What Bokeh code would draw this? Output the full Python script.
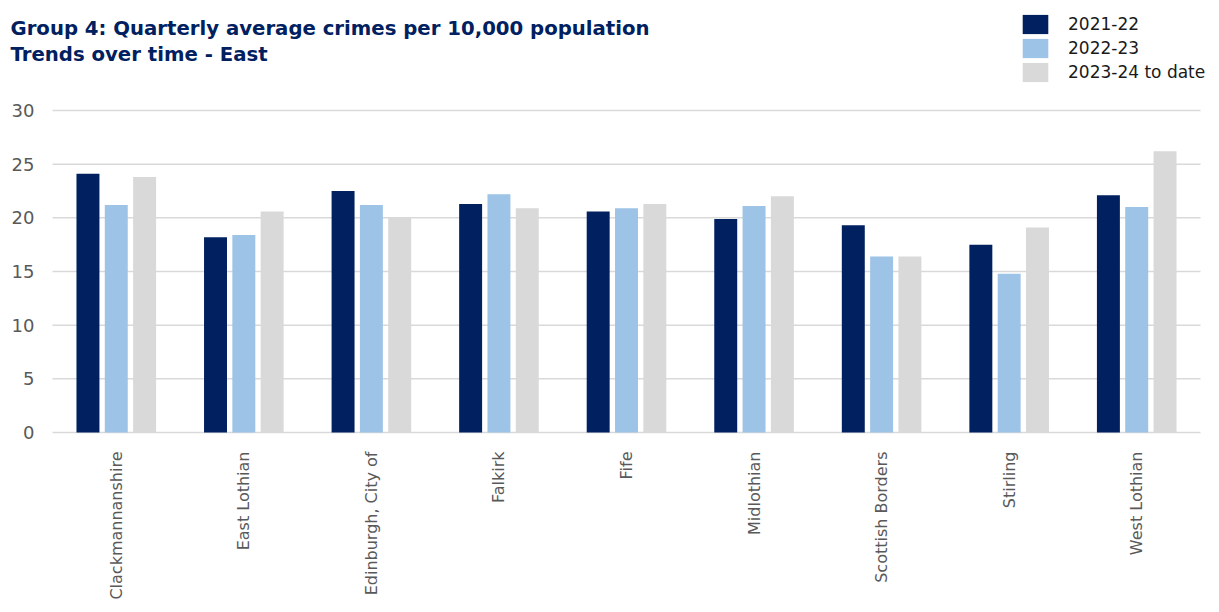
import math
from bokeh.plotting import figure
from bokeh.models import (ColumnDataSource, Legend, LegendItem, Label, Range1d, FixedTicker)
from bokeh.transform import dodge
from bokeh.core.properties import value
from bokeh.embed import file_html
from bokeh.resources import INLINE

categories = ["Clackmannanshire", "East Lothian", "Edinburgh, City of", "Falkirk", "Fife",
              "Midlothian", "Scottish Borders", "Stirling", "West Lothian"]
series_names = ["2021-22", "2022-23", "2023-24 to date"]
v_2021_22 = [24.1, 18.2, 22.5, 21.3, 20.6, 19.9, 19.3, 17.5, 22.1]
v_2022_23 = [21.2, 18.4, 21.2, 22.2, 20.9, 21.1, 16.4, 14.8, 21.0]
v_2023_24 = [23.8, 20.6, 20.0, 20.9, 21.3, 22.0, 16.4, 19.1, 26.2]
y_ticks = [0, 5, 10, 15, 20, 25, 30]
title_lines = ["Group 4: Quarterly average crimes per 10,000 population", "Trends over time - East"]

colors = ["#002060", "#9DC3E6", "#D9D9D9"]
FONT = "DejaVu Sans"

# ---- geometry (pixels) ----
W, H = 1219, 612
PLOT_L, PLOT_R, PLOT_T, PLOT_B = 52, 1200, 110, 432   # area of the category bands / value axis
n = len(categories)
px_per_cat = (PLOT_R - PLOT_L) / n
y_max = max(y_ticks)
px_per_unit = (PLOT_B - PLOT_T) / y_max
FRAME_B = PLOT_B + 12                                   # frame bottom (canvas px)

x_start = -0.5 - PLOT_L / px_per_cat
x_end = x_start + W / px_per_cat
y_start = -(FRAME_B - PLOT_B) / px_per_unit
y_end = y_start + FRAME_B / px_per_unit

xpos = list(range(n))
src = ColumnDataSource(dict(x=xpos, a=v_2021_22, b=v_2022_23, c=v_2023_24))

p = figure(width=W, height=H, x_range=Range1d(x_start, x_end), y_range=Range1d(y_start, y_end),
           output_backend="svg", toolbar_location=None, y_axis_location=None,
           min_border_left=0, min_border_right=0, min_border_top=0, min_border_bottom=H - FRAME_B)
p.outline_line_color = None
p.grid.grid_line_color = None

# horizontal gridlines across the category bands
p.segment(x0=[-0.5] * len(y_ticks), x1=[n - 0.5] * len(y_ticks), y0=y_ticks, y1=y_ticks,
          line_color="#D9D9D9", line_width=1.5)

renderers = []
for key, off, col in zip(["a", "b", "c"], [-0.222, 0.0, 0.222], colors):
    r = p.vbar(x=dodge("x", off), top=key, width=0.18, source=src,
               fill_color=col, line_color=None)
    renderers.append(r)

# value-axis labels
p.text(x=[-0.5] * len(y_ticks), y=y_ticks, text=[str(t) for t in y_ticks],
       x_offset=-18, text_align="right", text_baseline="middle",
       text_font=value(FONT), text_font_size="18px", text_color="#595959")

# category axis
p.xaxis.ticker = FixedTicker(ticks=xpos)
p.xaxis.major_label_overrides = {i: c for i, c in zip(xpos, categories)}
p.xaxis.axis_line_color = None
p.xaxis.major_tick_line_color = None
p.xaxis.minor_tick_line_color = None
p.xaxis.major_label_orientation = math.pi / 2
p.xaxis.major_label_text_font = FONT
p.xaxis.major_label_text_font_size = "16px"
p.xaxis.major_label_text_color = "#595959"
p.xaxis.major_label_standoff = 1

# title lines (screen px measured from the frame's bottom-left)
for i, t in enumerate(title_lines):
    p.add_layout(Label(x=10, y=FRAME_B - 28 - i * 26, x_units="screen", y_units="screen", text=t,
                       text_font=FONT, text_font_style="bold", text_font_size="19.7px",
                       text_color="#002060", text_baseline="alphabetic"))

# legend: location is its bottom-left corner in px from the frame's bottom-left
legend = Legend(items=[LegendItem(label=s, renderers=[r]) for s, r in zip(series_names, renderers)],
                location=(1019, FRAME_B - 84), orientation="vertical", spacing=0, padding=0, margin=0,
                glyph_width=32, glyph_height=24, label_height=24, label_standoff=17,
                label_text_font=FONT, label_text_font_size="17px", label_text_color="#1a1a1a",
                border_line_color=None, background_fill_alpha=0)
p.add_layout(legend, "center")

open("out.html", "w").write(file_html(p, INLINE))
